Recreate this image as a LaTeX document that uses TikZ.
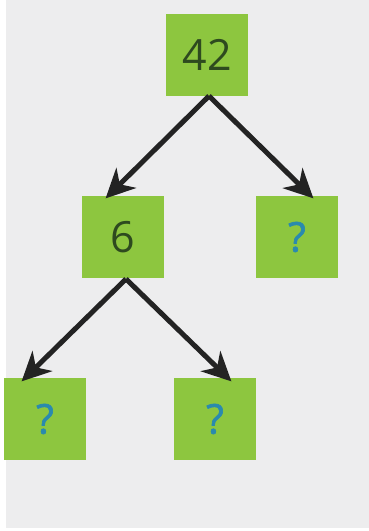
\documentclass[tikz,border=0pt]{standalone}
\usepackage{fontspec}
\setmainfont{Open Sans}
\newfontfamily\qfont[FakeBold=1.6]{Open Sans}
\usetikzlibrary{arrows.meta}
\definecolor{bg}{HTML}{EDEDEE}
\definecolor{boxgreen}{HTML}{8DC63F}
\definecolor{digit}{HTML}{2E4A1F}
\definecolor{qmark}{HTML}{2A8AAE}
\definecolor{arrowdark}{HTML}{232323}
\tikzset{
  numbox/.style={draw=none, fill=boxgreen, minimum width=82pt, minimum height=82pt,
    inner sep=0pt, font=\fontsize{43}{43}\selectfont, text=digit},
  qbox/.style={numbox, text=qmark, font=\qfont\fontsize{41}{41}\selectfont},
  link/.style={draw=arrowdark, line width=5pt,
    -{Stealth[length=29pt, width=28pt, inset=9pt]}, shorten >=-2pt}
}
\begin{document}
\begin{tikzpicture}[x=1pt, y=-1pt]
  % page and background
  \useasboundingbox (0,0) rectangle (369,531);
  \fill[white] (0,0) rectangle (369,531);
  \fill[bg] (6,0) rectangle (369,528);

  % tree nodes
  \node[numbox] (root) at (207,55) {42};
  \node[numbox] (six) at (123,237) {6};
  \node[qbox] (right) at (297,237) {?};
  \node[qbox] (leftleaf) at (45,419) {?};
  \node[qbox] (midleaf) at (215,419) {?};

  % branches
  \coordinate (r0) at (209,96);
  \coordinate (s0) at (126,279);
  \draw[link] (r0) -- (107,197);
  \draw[link] (r0) -- (312,197);
  \draw[link] (s0) -- (23,380);
  \draw[link] (s0) -- (230,380);
\end{tikzpicture}
\end{document}
